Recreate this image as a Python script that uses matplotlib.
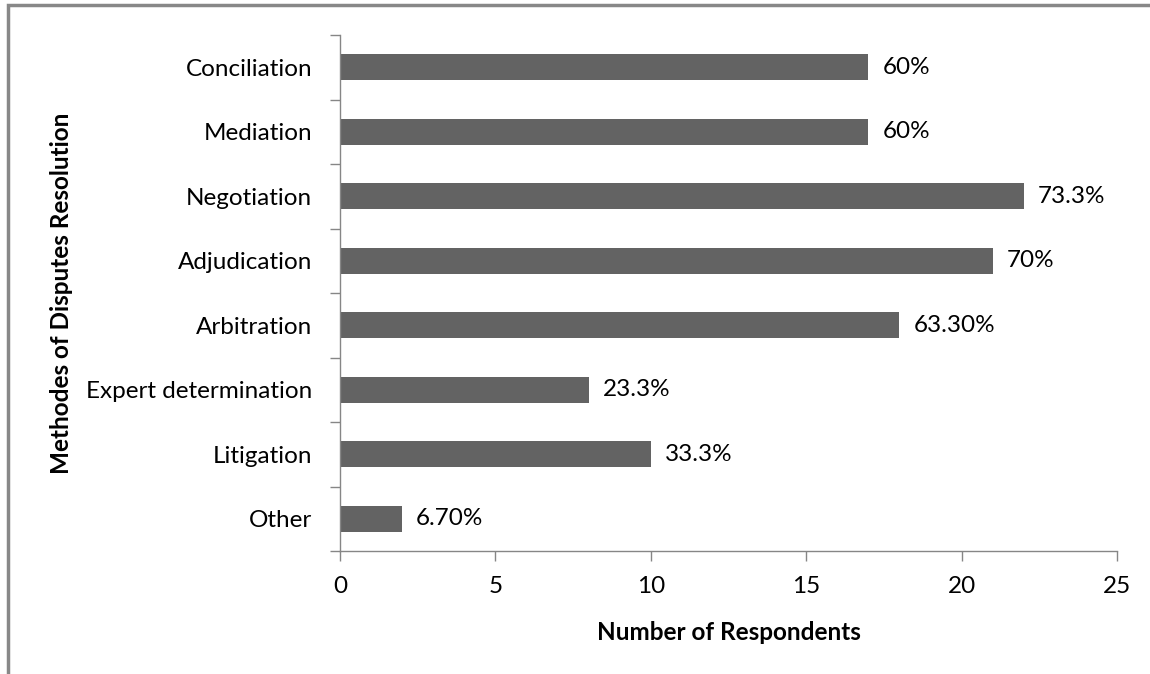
import numpy as np
import matplotlib.pyplot as plt
from matplotlib.patches import Rectangle

plt.rcParams['font.family'] = ['Lato', 'DejaVu Sans']

# survey results
methods = ['Conciliation', 'Mediation', 'Negotiation', 'Adjudication',
           'Arbitration', 'Expert determination', 'Litigation', 'Other']
respondents = [17, 17, 22, 21, 18, 8, 10, 2]
pct_labels = ['60%', '60%', '73.3%', '70%', '63.30%', '23.3%', '33.3%', '6.70%']

bar_col = '#636363'
axis_col = '#868686'
fs = 17.5

fig = plt.figure(figsize=(11.5, 6.74), dpi=100)
ax = fig.add_axes([0.2957, 0.1825, 0.6756, 0.7655])

y = np.arange(len(methods))
ax.barh(y, respondents, height=0.4, color=bar_col)
for yy, v, lab in zip(y, respondents, pct_labels):
    ax.text(v + 0.45, yy, lab, va='center', ha='left', fontsize=fs, color='black')

ax.set_xlim(0, 25)
ax.set_ylim(len(methods) - 0.5, -0.5)
ax.set_xticks(np.arange(0, 26, 5))
ax.set_yticks(y)
ax.set_yticklabels(methods)
ax.set_yticks(np.arange(-0.5, len(methods)), minor=True)
ax.tick_params(axis='y', which='major', length=0, pad=20, labelsize=fs)
ax.tick_params(axis='y', which='minor', length=7, color=axis_col, width=1)
ax.tick_params(axis='x', length=7, color=axis_col, width=1, pad=11, labelsize=fs)

for s in ['top', 'right']:
    ax.spines[s].set_visible(False)
for s in ['left', 'bottom']:
    ax.spines[s].set_color(axis_col)
    ax.spines[s].set_linewidth(1)

ax.set_xlabel('Number of Respondents', fontsize=fs, fontweight='bold', labelpad=17)
fig.text(62 / 1150, 1 - 293 / 674, 'Methodes of Disputes Resolution', rotation=90,
         ha='center', va='center', fontsize=fs, fontweight='bold')

# chart area frame
fig.patches.append(Rectangle((8 / 1150, -0.05), 1.2, 1 - 5 / 674 + 0.05,
                             transform=fig.transFigure, fill=False,
                             edgecolor='#888888', linewidth=2.5))

fig.savefig('out.png', dpi=100)
